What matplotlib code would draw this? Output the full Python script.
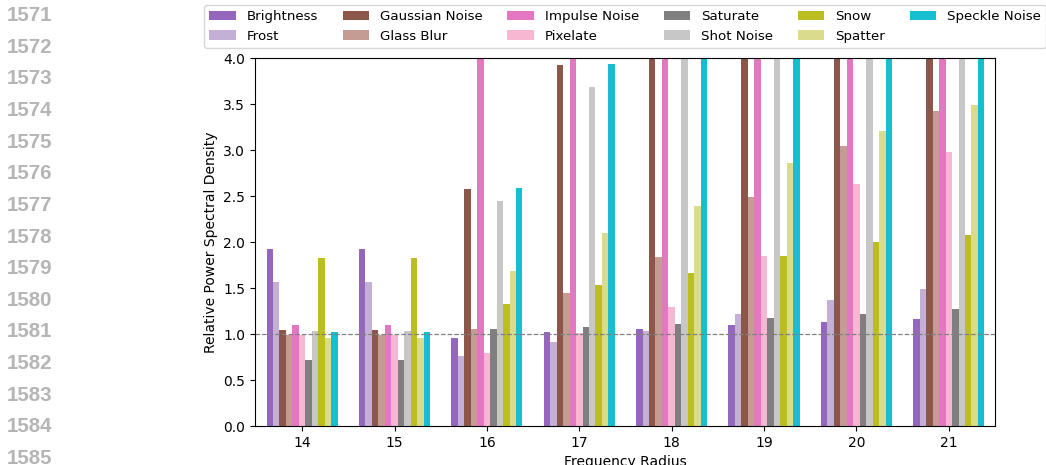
import matplotlib
matplotlib.use("Agg")
import matplotlib.pyplot as plt
import numpy as np

radii = [14, 15, 16, 17, 18, 19, 20, 21]

corruptions = ["Brightness", "Frost", "Gaussian Noise", "Glass Blur", "Impulse Noise",
               "Pixelate", "Saturate", "Shot Noise", "Snow", "Spatter", "Speckle Noise"]

brightness = [1.92, 1.92, 0.96, 1.02, 1.05, 1.10, 1.13, 1.16]
frost = [1.57, 1.57, 0.76, 0.91, 1.03, 1.22, 1.37, 1.49]
gaussian_noise = [1.04, 1.04, 2.58, 3.92, 5.1, 6.3, 7.4, 8.5]
glass_blur = [0.99, 0.99, 1.05, 1.45, 1.84, 2.49, 3.04, 3.42]
impulse_noise = [1.10, 1.10, 4.3, 5.6, 6.8, 8.0, 9.1, 10.2]
pixelate = [0.99, 0.99, 0.79, 1.01, 1.29, 1.85, 2.63, 2.98]
saturate = [0.72, 0.72, 1.05, 1.08, 1.11, 1.17, 1.22, 1.27]
shot_noise = [1.03, 1.03, 2.45, 3.68, 4.7, 5.8, 6.9, 7.9]
snow = [1.83, 1.83, 1.33, 1.53, 1.66, 1.85, 2.00, 2.08]
spatter = [0.96, 0.96, 1.69, 2.10, 2.39, 2.86, 3.21, 3.49]
speckle_noise = [1.02, 1.02, 2.59, 3.94, 4.9, 6.0, 7.1, 8.1]

series = [brightness, frost, gaussian_noise, glass_blur, impulse_noise, pixelate,
          saturate, shot_noise, snow, spatter, speckle_noise]

colours = ["#9467bd", "#c5b0d5", "#8c564b", "#c49c94", "#e377c2", "#f7b6d2",
           "#7f7f7f", "#c7c7c7", "#bcbd22", "#dbdb8d", "#17becf"]

line_numbers = list(range(1571, 1586))

fig = plt.figure(figsize=(10.46, 4.65), dpi=100)
ax = fig.add_axes([255 / 1046, 1 - 426 / 465, 740 / 1046, 368 / 465])

width = 0.07
x = np.array(radii, dtype=float)
for index, (name, values, colour) in enumerate(zip(corruptions, series, colours)):
    offset = (index - (len(series) - 1) / 2) * width
    ax.bar(x + offset, values, width, label=name, color=colour)

ax.axhline(1.0, color="gray", linestyle="--", linewidth=0.9)
ax.set_ylim(0, 4.0)
ax.set_xlim(13.49, 21.5)
ax.set_xticks(radii)
ax.set_xlabel("Frequency Radius")
ax.set_ylabel("Relative Power Spectral Density")
ax.legend(loc="lower center", bbox_to_anchor=(0.5, 1.02), ncol=6, fontsize=9.6,
          handlelength=2.0, columnspacing=1.85, borderaxespad=0.2)

for i, number in enumerate(line_numbers):
    fig.text(7 / 1046, 1 - (15.8 + i * 31.6) / 465, str(number), color="#b5b5b5",
             fontsize=14.8, fontweight="bold", family=["Liberation Sans", "DejaVu Sans"],
             ha="left", va="center")

fig.savefig("out.png", dpi=100)
